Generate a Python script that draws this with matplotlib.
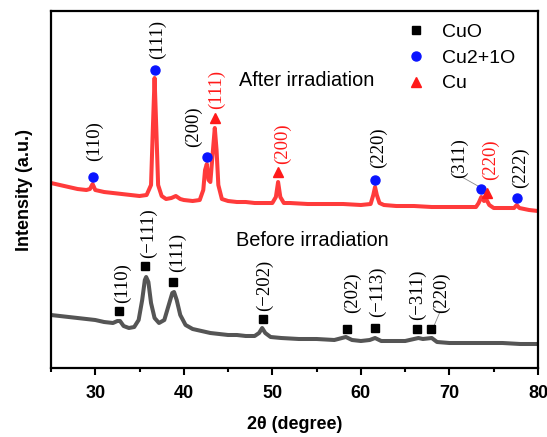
import matplotlib
matplotlib.use("Agg")
import matplotlib.pyplot as plt
from matplotlib.ticker import MultipleLocator

# ---------------- data ----------------
after_x = [25.0, 26.0, 27.0, 28.0, 29.0, 29.4, 29.7, 30.0, 30.5, 31.0, 32.0, 33.0, 34.0, 35.0,
           35.8, 36.3, 36.5, 36.7, 36.9, 37.1, 37.5, 38.0, 38.6, 39.1, 39.6, 40.0, 41.0, 41.8,
           42.2, 42.4, 42.6, 42.8, 43.0, 43.2, 43.5, 43.7, 43.9, 44.3, 45.0, 46.0, 47.0, 48.0,
           49.0, 50.0, 50.4, 50.65, 50.9, 51.3, 52.0, 54.0, 56.0, 58.0, 60.0, 61.1, 61.4, 61.6,
           61.8, 62.1, 62.6, 64.0, 66.0, 68.0, 70.0, 72.0, 73.0, 73.3, 73.6, 73.9, 74.2, 74.5,
           75.0, 76.0, 77.3, 77.6, 77.9, 79.0, 80.0]
after_y = [185, 183, 181, 179, 178, 179, 184, 178, 177, 176, 175, 174, 173, 172,
           173, 183, 238, 290, 238, 183, 172, 169, 170, 172, 169, 168, 167, 168,
           178, 198, 204, 188, 186, 208, 240, 218, 183, 169, 167, 166, 166, 165,
           165, 165, 171, 186, 171, 165, 165, 164, 164, 164, 163, 164, 173, 181,
           173, 165, 163, 162, 162, 161, 161, 161, 161, 165, 171, 167, 168, 163,
           160, 160, 160, 163, 160, 158, 157]

before_x = [25, 26, 27, 28, 29, 30, 31, 32, 32.5, 32.8, 33.2, 33.8, 34.4, 34.9, 35.3, 35.6,
            35.75, 36.0, 36.3, 36.7, 37.2, 37.8, 38.3, 38.7, 38.9, 39.2, 39.6, 40.2, 41, 42,
            43, 44, 45, 46, 47, 48, 48.5, 48.85, 49.2, 49.8, 51, 53, 55, 57, 58.3, 59, 60,
            61, 61.6, 62.3, 63, 64, 65, 66, 66.5, 67, 68, 68.6, 70, 72, 74, 76, 78, 80]
before_y = [53, 52, 51, 50, 49, 48, 46, 45, 47, 47, 42, 40, 41, 48, 68, 88,
            91, 86, 65, 50, 45, 48, 63, 75, 76, 68, 53, 43, 39, 37,
            35, 34, 33, 33, 32, 32, 35, 40, 35, 31, 30, 29, 29, 28, 31, 28, 27,
            28, 30, 27, 27, 27, 27, 29, 30, 29, 30, 26, 25, 25, 25, 25, 24, 24]

# CuO peaks (before irradiation)
cuo_x = [32.68, 35.62, 38.78, 48.94, 58.43, 61.59, 66.33, 67.91]
cuo_y = [57, 102, 86, 49, 39, 40, 39, 39]
cuo_labels = ["(110)", "(\u2212111)", "(111)", "(\u2212202)", "(202)", "(\u2212113)", "(\u2212311)", "(220)"]

# Cu2O peaks (after irradiation)
cu2o_x = [29.74, 36.74, 42.62, 61.59, 73.56, 77.63]
cu2o_y = [191, 298, 211, 188, 179, 170]
cu2o_labels = ["(110)", "(111)", "(200)", "(220)", "(311)", "(222)"]

# Cu peaks (after irradiation)
cu_x = [43.52, 50.64, 74.24]
cu_y = [250, 196, 175]
cu_labels = ["(111)", "(200)", "(220)"]

legend_labels = ["CuO", "Cu2+1O", "Cu"]
xticks = [30, 40, 50, 60, 70, 80]

# ---------------- label placement (pixel offsets from markers) ----------------
cuo_off = [(3, 8), (3, 8), (4, 10), (2, 8), (5, 16), (3, 11), (1, 9), (11, 16)]
cu2o_off = [(2, 16), (3, 11), (-14, 10), (4, 12), (-21, 11), (3, 10)]
cu_off = [(2, 9), (4, 8), (3, 13)]
leader_cuo = [False, False, False, False, False, False, False, True]
leader_cu2o = [False, False, False, False, True, False]

PX = 55 / 487.0   # degrees per pixel
PY = 1.0          # intensity units per pixel

fig = plt.figure(figsize=(5.47, 4.37), dpi=100)
ax = fig.add_axes([0.0932, 0.1579, 0.8903, 0.8169])

ax.plot(after_x, after_y, color="#ff3b3b", lw=2.9, solid_joinstyle="round")
ax.plot(before_x, before_y, color="#555555", lw=2.9, solid_joinstyle="round")

ax.plot(cuo_x, cuo_y, "s", color="black", ms=6, ls="none", zorder=4)
ax.plot(cu2o_x, cu2o_y, "o", color="#0a14ff", ms=6.5, ls="none", zorder=4)
ax.plot(cu_x, cu_y, "^", color="#ff1a1a", ms=7, ls="none", zorder=4)

serif = ["Liberation Serif", "DejaVu Serif"]


def put_labels(xs, ys, labels, offs, color, leaders):
    for x, y, lab, (dx, dy), ld in zip(xs, ys, labels, offs, leaders):
        tx = x + dx * PX
        ty = y + dy * PY
        ax.text(tx, ty, lab, rotation=90, ha="center", va="bottom", color=color,
                fontsize=13.5, family=serif)
        if ld:
            ax.plot([x + (3 * PX if dx > 0 else -3 * PX), tx + (-2 * PX if dx > 0 else 2 * PX)],
                    [y + 3, ty + 1], color="#888888", lw=0.6)


put_labels(cuo_x, cuo_y, cuo_labels, cuo_off, "black", leader_cuo)
put_labels(cu2o_x, cu2o_y, cu2o_labels, cu2o_off, "black", leader_cu2o)
put_labels(cu_x, cu_y, cu_labels, cu_off, "#ff1a1a", [False] * 3)

sans = ["Liberation Sans", "DejaVu Sans"]
ax.text(53.9, 288, "After irradiation", ha="center", va="center", fontsize=14.3, family=sans)
ax.text(54.5, 128, "Before irradiation", ha="center", va="center", fontsize=14.4, family=sans)

# legend
h1, = ax.plot([], [], "s", color="black", ms=6)
h2, = ax.plot([], [], "o", color="#0a14ff", ms=6.5)
h3, = ax.plot([], [], "^", color="#ff1a1a", ms=7)
ax.legend([h1, h2, h3], legend_labels, loc="upper right", frameon=False,
          prop=dict(family=sans, size=14), handletextpad=0.75, labelspacing=0.42,
          bbox_to_anchor=(0.99, 1.015), handlelength=1.2)

ax.set_xlim(25, 80)
ax.set_ylim(0, 357)
ax.set_xticks(xticks)
ax.xaxis.set_minor_locator(MultipleLocator(5))
ax.set_yticks([])
ax.tick_params(axis="x", which="major", direction="out", length=5, width=1.5,
               labelsize=13, pad=7)
ax.tick_params(axis="x", which="minor", direction="out", length=3, width=1.5)
for lab in ax.get_xticklabels():
    lab.set_fontweight("bold")
    lab.set_family(sans)
for s in ax.spines.values():
    s.set_linewidth(1.6)

ax.set_xlabel("2\u03b8 (degree)", fontsize=13, fontweight="bold", family=sans, labelpad=10)
ax.set_ylabel("Intensity (a.u.)", fontsize=13, fontweight="bold", family=sans, labelpad=13)

fig.savefig("out.png", dpi=100)
